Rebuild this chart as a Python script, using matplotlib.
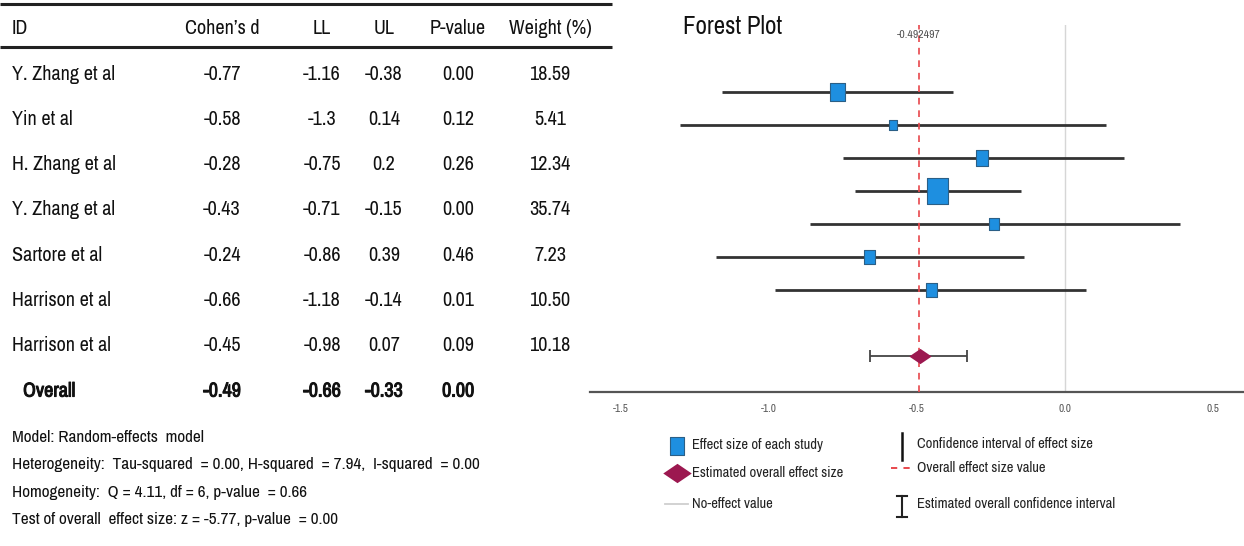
import matplotlib
matplotlib.use("Agg")
import matplotlib.pyplot as plt
from matplotlib.path import Path
from matplotlib import font_manager as fm
import matplotlib.patheffects as pe

# ---------------- data ----------------
study_ids = ["Y. Zhang et al", "Yin et al", "H. Zhang et al", "Y. Zhang et al",
             "Sartore et al", "Harrison et al", "Harrison et al"]
cohens_d = [-0.77, -0.58, -0.28, -0.43, -0.24, -0.66, -0.45]
lower_lim = [-1.16, -1.3, -0.75, -0.71, -0.86, -1.18, -0.98]
upper_lim = [-0.38, 0.14, 0.2, -0.15, 0.39, -0.14, 0.07]
p_values = [0.00, 0.12, 0.26, 0.00, 0.46, 0.01, 0.09]
weights = [18.59, 5.41, 12.34, 35.74, 7.23, 10.50, 10.18]
overall_d = -0.49
overall_ll = -0.66
overall_ul = -0.33
overall_p = 0.00
overall_exact = -0.492497
headers = ["ID", "Cohen\u2019s d", "LL", "UL", "P-value", "Weight (%)"]
x_ticks = [-1.5, -1.0, -0.5, 0.0, 0.5]
notes = ["Model: Random-effects  model",
         "Heterogeneity:  Tau-squared  = 0.00, H-squared  = 7.94,  I-squared  = 0.00",
         "Homogeneity:  Q = 4.11, df = 6, p-value  = 0.66",
         "Test of overall  effect size: z = -5.77, p-value  = 0.00"]
legend_left = ["Effect size of each study", "Estimated overall effect size", "No-effect value"]
legend_right = ["Confidence interval of effect size", "Overall effect size value",
                "Estimated overall confidence interval"]

# ---------------- fonts ----------------
avail = {f.name for f in fm.fontManager.ttflist}
narrow = None
for cand in ["Liberation Sans Narrow", "Arial Narrow", "Archivo Narrow", "Liberation Sans"]:
    if cand in avail:
        narrow = cand
        break
FONT = [narrow, "DejaVu Sans"]
plt.rcParams["font.family"] = FONT

W, H = 1244, 546
fig = plt.figure(figsize=(W / 100, H / 100), dpi=100)

# overlay axes in pixel coordinates for table + legend
ov = fig.add_axes([0, 0, 1, 1])
ov.set_xlim(0, W)
ov.set_ylim(H, 0)
ov.axis("off")

# ---------- table ----------
tc = "#111111"
fs_tab = 14.5
ov.plot([0, 612], [4, 4], color="#222222", lw=2.2, solid_capstyle="butt")
ov.plot([0, 612], [47, 47], color="#222222", lw=2.2, solid_capstyle="butt")
col_x = [12, 222, 322, 384, 458, 550]
for j, h in enumerate(headers):
    ov.text(col_x[j], 28, h, ha="left" if j == 0 else "center", va="center",
            fontsize=fs_tab, color=tc)

row_y0, row_dy = 74, 45.3
for i in range(len(study_ids)):
    y = row_y0 + i * row_dy
    vals = [study_ids[i], f"{cohens_d[i]:.2f}", format(lower_lim[i], "g"),
            format(upper_lim[i], "g"), f"{p_values[i]:.2f}", f"{weights[i]:.2f}"]
    for j, v in enumerate(vals):
        ov.text(col_x[j], y, v, ha="left" if j == 0 else "center", va="center",
                fontsize=fs_tab, color=tc)
y = row_y0 + len(study_ids) * row_dy
bold = [pe.withStroke(linewidth=0.7, foreground=tc)]
ov_vals = ["Overall", f"{overall_d:.2f}", f"{overall_ll:.2f}", f"{overall_ul:.2f}",
           f"{overall_p:.2f}"]
ov.text(23, y, ov_vals[0], ha="left", va="center", fontsize=fs_tab,
        fontweight="bold", color=tc, path_effects=bold)
for j, v in enumerate(ov_vals[1:], start=1):
    ov.text(col_x[j], y, v, ha="center", va="center", fontsize=fs_tab,
            fontweight="bold", color=tc, path_effects=bold)

for k, line in enumerate(notes):
    ov.text(12, 437 + k * 27.5, line, ha="left", va="center", fontsize=12.4, color=tc)

# ---------- legend (pixel coords) ----------
sq_col = "#1E8FE0"
sq_edge = "#2B5F86"
dia_col = "#9C1850"
lfs = 10.5
lc = "#222222"
rect_marker = Path([(-0.4, -0.5), (0.4, -0.5), (0.4, 0.5), (-0.4, 0.5), (-0.4, -0.5)],
                   [Path.MOVETO, Path.LINETO, Path.LINETO, Path.LINETO, Path.CLOSEPOLY])
dia_marker = Path([(-1, 0), (0, 0.68), (1, 0), (0, -0.68), (-1, 0)],
                  [Path.MOVETO, Path.LINETO, Path.LINETO, Path.LINETO, Path.CLOSEPOLY])
ov.scatter([677], [446], marker=rect_marker, s=160, color=sq_col, edgecolor=sq_edge, lw=0.8)
ov.text(692, 445, legend_left[0], va="center", ha="left", fontsize=lfs, color=lc)
ov.scatter([677], [473], marker=dia_marker, s=420, color=dia_col, lw=0)
ov.text(692, 473, legend_left[1], va="center", ha="left", fontsize=lfs, color=lc)
ov.plot([665, 688], [504, 504], color="#cfcfcf", lw=1.3)
ov.text(692, 504, legend_left[2], va="center", ha="left", fontsize=lfs, color=lc)

ov.plot([902, 902], [433, 460], color="#111111", lw=1.8)
ov.text(917, 444, legend_right[0], va="center", ha="left", fontsize=lfs, color=lc)
ov.plot([891, 911], [468, 468], color="#E8474C", lw=1.4, ls=(0, (3.2, 3.2)))
ov.text(917, 468, legend_right[1], va="center", ha="left", fontsize=lfs, color=lc)
ov.plot([902, 902], [496, 517], color="#222222", lw=1.5)
ov.plot([897, 907], [496, 496], color="#222222", lw=1.5)
ov.plot([897, 907], [517, 517], color="#222222", lw=1.5)
ov.text(917, 504, legend_right[2], va="center", ha="left", fontsize=lfs, color=lc)

ov.text(683, 27, "Forest Plot", ha="left", va="center", fontsize=18, color="#111111")

# ---------- forest axes ----------
ax_left, ax_right = 590, 1244
ax_top, ax_bot = 25, 392
ax = fig.add_axes([ax_left / W, 1 - ax_bot / H, (ax_right - ax_left) / W, (ax_bot - ax_top) / H])
ax.patch.set_alpha(0)
x_per_px = 0.5 / 148.0
x0 = -1.5 - (621 - ax_left) * x_per_px
x1 = x0 + (ax_right - ax_left) * x_per_px
ax.set_xlim(x0, x1)
row_px0, row_pdy = 92, 33
ax.set_ylim((ax_bot - row_px0) / row_pdy, (ax_top - row_px0) / row_pdy)

rows = list(range(len(study_ids)))
ax.axvline(0.0, color="#d6d6d6", lw=1.0, zorder=1)
ax.axvline(overall_exact, color="#E8474C", lw=1.2, ls=(0, (4, 3.5)), zorder=4)
ax.hlines(rows, lower_lim, upper_lim, color="#333333", lw=2.0, zorder=2)
ax.scatter(cohens_d, rows, marker=rect_marker, s=[wv * 9.6 for wv in weights],
           color=sq_col, edgecolor=sq_edge, lw=0.8, zorder=3)

ov_row = len(study_ids) + 1
ax.errorbar([overall_d], [ov_row],
            xerr=[[overall_d - overall_ll], [overall_ul - overall_d]],
            fmt="none", ecolor="#444444", elinewidth=1.3, capsize=4.5, capthick=1.3, zorder=2)
ax.scatter([overall_d], [ov_row], marker=dia_marker, s=260, color=dia_col, lw=0, zorder=5)
ax.text(overall_exact, (35 - row_px0) / row_pdy, f"{overall_exact:g}", ha="center",
        va="center", fontsize=8.5, color="#555555", zorder=6)

for s in ["top", "left", "right"]:
    ax.spines[s].set_visible(False)
ax.spines["bottom"].set_color("#555555")
ax.spines["bottom"].set_linewidth(1.6)
ax.set_yticks([])
ax.set_xticks(x_ticks)
ax.set_xticklabels([f"{t:.1f}" for t in x_ticks])
ax.tick_params(axis="x", length=0, pad=9, labelsize=8, labelcolor="#555555")

fig.savefig("out.png", dpi=100)
